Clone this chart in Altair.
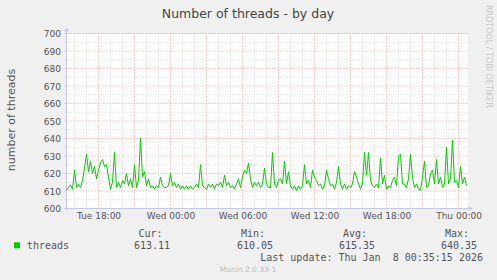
import altair as alt
import pandas as pd

# ---- data ----
threads = [
    610.5, 612, 613.5, 611, 622, 612, 614, 612, 616, 623,
    631, 621, 627, 620, 624, 617, 622, 626, 628, 624,
    625, 618, 611, 615, 632, 612, 615, 612, 616, 614,
    620, 613, 617, 612, 625, 612, 616, 640.35, 618, 621,
    613, 617, 612, 613, 611, 613, 612, 618, 613, 612,
    612, 613, 620, 613, 615, 612, 614, 611, 613, 611,
    613, 611, 613, 611, 612, 614, 612, 625, 613, 612,
    611, 614, 612, 614, 611, 614, 613, 615, 612, 619,
    613, 615, 612, 613, 611, 614, 617, 612, 618, 622,
    620, 626, 617, 612, 615, 613, 615, 612, 614, 623,
    614, 612, 612, 632, 614, 612, 616, 617, 614, 627,
    614, 621, 613, 611, 613, 610.05, 613, 611, 613, 625,
    614, 616, 612, 622, 618, 616, 613, 614, 611, 613,
    622, 617, 613, 614, 611, 615, 624, 614, 611, 614,
    611, 613, 612, 614, 621, 618, 614, 611, 614, 632,
    619, 632, 616, 613, 612, 614, 612, 629, 614, 619,
    611, 613, 612, 616, 618, 613, 630, 631, 614, 614,
    612, 617, 631, 618, 612, 614, 611, 610.5, 618, 627,
    612, 613, 620, 622, 614, 628, 614, 618, 612, 614,
    635, 614, 617, 639, 615, 616, 612, 624, 614, 618,
    613.11,
]
sample_start = "2026-01-06 15:20"
times = pd.date_range(sample_start, periods=len(threads), freq="10min")

y_major = list(range(600, 701, 10))
y_minor = list(range(605, 700, 10))
y_labels = list(range(600, 701, 10))
x_major = list(pd.date_range("2026-01-06 18:00", "2026-01-08 00:00", freq="3h"))
x_minor = [t for t in pd.date_range("2026-01-06 16:00", "2026-01-08 00:00", freq="1h") if t.hour % 3]
x_label_ticks = [(6, 18), (7, 0), (7, 6), (7, 12), (7, 18), (8, 0)]

title_text = "Number of threads - by day"
y_title = "number of threads"
series_name = "threads"
stat_names = ["Cur:", "Min:", "Avg:", "Max:"]
stat_values = ["613.11", "610.05", "615.35", "640.35"]
last_update = "Last update: Thu Jan\u00a0 8 00:35:15 2026"
watermark = "RRDTOOL / TOBI OETIKER"
footer = "Munin 2.0.33-1"

# ---- layout ----
W, H = 401, 175
PL, PT = 66.5, 33.5
PR, PB = 497 - PL - W, 280 - PT - H

SANS = "DejaVu Sans"
MONO = "DejaVu Sans Mono"
TXT = "#555555"
AXC = "#C4C8F0"
MINOR = "#CFCFCF"
MAJOR = "#F29A9A"

xscale = alt.Scale(domain=[alt.DateTime(year=2026, month=1, date=6, hours=15, minutes=20),
                           alt.DateTime(year=2026, month=1, date=8, hours=0, minutes=45)])
yscale = alt.Scale(domain=[600, 700], nice=False, zero=False)

df = pd.DataFrame({"t": times, "v": threads})

xaxis = alt.Axis(
    values=[alt.DateTime(year=2026, month=1, date=d, hours=h) for d, h in x_label_ticks],
    format="%a %H:%M", grid=False, ticks=False, domain=False, title=None,
    labelFont=SANS, labelFontSize=9, labelColor=TXT, labelPadding=3,
    labelFlush=False, labelOverlap=False,
)
yaxis = alt.Axis(
    values=y_labels, grid=False, ticks=False, domain=False, title=None,
    labelFont=SANS, labelFontSize=9, labelColor=TXT, labelPadding=6,
)
X = alt.X("t:T", scale=xscale, axis=xaxis)
Y = alt.Y("v:Q", scale=yscale, axis=yaxis)


def one():
    return pd.DataFrame({"k": [0]})


vminor = alt.Chart(pd.DataFrame({"t": x_minor})).mark_rule(
    color=MINOR, strokeDash=[1, 2], strokeWidth=1
).encode(x=X, y=alt.value(0), y2=alt.value(177))

vmajor = alt.Chart(pd.DataFrame({"t": x_major})).mark_rule(
    color=MAJOR, strokeDash=[1, 2], strokeWidth=1
).encode(x=X, y=alt.value(0), y2=alt.value(177))

hminor = alt.Chart(pd.DataFrame({"v": y_minor})).mark_rule(
    color=MINOR, strokeDash=[1, 2], strokeWidth=1
).encode(y=Y, x=alt.value(-2), x2=alt.value(W))

hmajor = alt.Chart(pd.DataFrame({"v": y_major})).mark_rule(
    color=MAJOR, strokeDash=[1, 2], strokeWidth=1
).encode(y=Y, x=alt.value(-2), x2=alt.value(W))

left_axis = alt.Chart(one()).mark_rule(color=AXC, strokeWidth=1).encode(
    x=alt.value(0), y=alt.value(-4), y2=alt.value(177))
bottom_axis = alt.Chart(one()).mark_rule(color=AXC, strokeWidth=1).encode(
    x=alt.value(-2), x2=alt.value(W + 2), y=alt.value(H))
up_arrow = alt.Chart(one()).mark_point(shape="triangle-up", filled=True, size=22,
                                       color=AXC, opacity=1).encode(x=alt.value(0), y=alt.value(-4))
right_arrow = alt.Chart(one()).mark_point(shape="triangle-right", filled=True, size=22,
                                          color=AXC, opacity=1).encode(x=alt.value(W + 3), y=alt.value(H))

line = alt.Chart(df).mark_line(color="#00CC00", strokeWidth=1).encode(x=X, y=Y)


def text_layer(txt, x, y, font=SANS, size=9, color=TXT, align="left", baseline="alphabetic", angle=0):
    kw = dict(font=font, fontSize=size, color=color, align=align, baseline=baseline)
    if angle:
        kw["angle"] = angle
    return alt.Chart(pd.DataFrame({"s": [txt]})).mark_text(**kw).encode(
        text="s:N", x=alt.value(x), y=alt.value(y))


layers = [vminor, hminor, vmajor, hmajor, left_axis, bottom_axis, up_arrow, right_arrow, line]

layers.append(text_layer(title_text, 248 - PL, 17.5 - PT, size=12.5, color="#444444", align="center"))
layers.append(text_layer(y_title, 15 - PL, 120 - PT, size=11, color=TXT, align="center", angle=270))
layers.append(text_layer(watermark, 485.5 - PL, 5 - PT, size=8, color="#C8C8C8", align="left", angle=90))
layers.append(text_layer(footer, 248 - PL, 272 - PT, size=7.5, color="#BBBBBB", align="center"))

# legend
layers.append(alt.Chart(one()).mark_square(size=36, color="#00CC00", opacity=1).encode(
    x=alt.value(17 - PL), y=alt.value(245.3 - PT)))
layers.append(text_layer(series_name, 27 - PL, 249 - PT, font=MONO, size=10))
name_right = [162.5, 265, 367, 469]
value_right = [170, 273, 375, 477]
for nm, val, xn, xv in zip(stat_names, stat_values, name_right, value_right):
    layers.append(text_layer(nm, xn - PL, 236.5 - PT, font=MONO, size=10, align="right"))
    layers.append(text_layer(val, xv - PL, 249 - PT, font=MONO, size=10, align="right"))
layers.append(text_layer(last_update, 483 - PL, 261 - PT, font=MONO, size=10, align="right"))

chart = alt.layer(*layers).properties(
    width=W, height=H,
    autosize=alt.AutoSizeParams(type="none"),
    padding={"left": PL, "top": PT, "right": PR, "bottom": PB},
    background="#F0F0F0",
).configure_view(fill="white", stroke="transparent")

chart.save("out.html", embed_options={"renderer": "svg", "actions": False})
